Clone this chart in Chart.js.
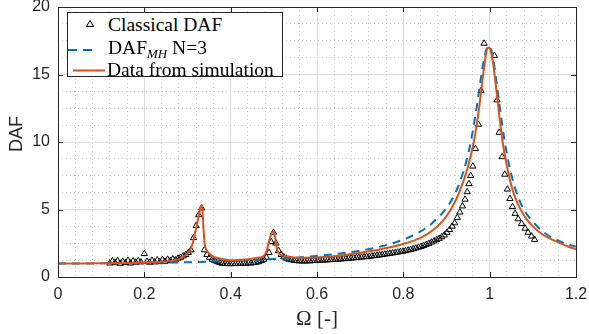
<!DOCTYPE html>
<html>
<head>
<meta charset="utf-8">
<script src="https://cdn.jsdelivr.net/npm/chart.js@4.4.1/dist/chart.umd.min.js"></script>
<style>
html,body{margin:0;padding:0;background:#fff;}
#wrap{position:relative;width:589px;height:334px;}
#legend{position:absolute;left:67px;top:12px;width:216px;height:65px;box-sizing:border-box;border:1px solid #262626;background:#fff;}
.lt{position:absolute;font-family:"Liberation Serif","Times New Roman",serif;font-size:19.5px;line-height:19px;color:#000;white-space:nowrap;}
.lt .sb{font-size:13px;font-style:italic;position:relative;top:4px;}
</style>
</head>
<body>
<div id="wrap">
<canvas id="c" width="589" height="334"></canvas>
<div id="legend"></div>
<svg id="sym" width="589" height="334" style="position:absolute;left:0;top:0;pointer-events:none;">
  <polygon points="90,20.5 93.5,26.5 86.5,26.5" fill="none" stroke="#000" stroke-width="1"/>
  <line x1="68" y1="50" x2="97" y2="50" stroke="#0072BD" stroke-width="2" stroke-dasharray="9,6"/>
  <line x1="73" y1="70.5" x2="105" y2="70.5" stroke="#D95319" stroke-width="2"/>
</svg>
<div class="lt" style="left:108px;top:14.6px;">Classical DAF</div>
<div class="lt" style="left:108px;top:37.9px;">DAF<span class="sb">MH</span> N=3</div>
<div class="lt" style="left:107px;top:59.6px;">Data from simulation</div>
</div>
<script>
// ---- data ----
const classicalX = [
 0.120,0.126,0.132,0.138,0.144,0.150,0.156,0.162,0.168,0.174,0.180,0.186,0.192,
 0.200,
 0.206,0.212,0.218,0.224,0.230,0.236,0.242,0.248,0.254,0.260,0.266,0.272,0.278,
 0.284,0.290,0.296,0.302,0.308,0.314,0.320,0.326,0.333,0.339,0.345,0.351,0.357,0.363,0.369,0.375,
 0.381,0.387,0.393,0.399,0.405,0.411,0.417,0.423,0.429,0.435,0.441,0.447,0.453,0.459,0.465,0.471,
 0.477,0.483,0.489,0.494,0.499,0.505,0.511,0.517,0.523,0.529,0.535,0.541,0.547,0.553,0.559,0.565,0.571,0.577,0.583,0.589,0.595,
 0.601,0.607,0.613,0.619,0.625,0.631,0.637,0.643,0.649,0.655,0.661,0.667,0.673,0.679,0.685,0.691,0.697,0.703,0.709,0.715,
 0.721,0.727,0.733,0.739,0.745,0.751,0.757,0.763,0.769,0.775,0.781,0.787,0.793,0.799,0.805,0.811,0.817,0.823,0.829,0.835,
 0.841,0.847,0.853,0.859,0.865,0.871,0.877,0.883,0.889,0.895,0.901,0.907,0.913,0.919,0.925,0.931,0.937,0.943,0.948,0.952,0.956,0.961,0.967,0.974,0.980,0.987,
 1.011,1.017,1.022,1.029,1.035,1.041,1.047,1.053,1.059,1.066,1.074,1.082,1.089,1.097,1.104
];
const classicalDAF = [
 1.02,1.18,1.05,1.20,1.00,1.15,1.05,1.22,1.02,1.18,1.08,1.20,1.10,
 1.72,
 1.15,1.08,1.22,1.10,1.25,1.12,1.28,1.15,1.30,1.20,1.32,1.25,1.38,
 1.45,1.55,1.65,1.80,2.00,2.90,3.80,4.60,5.10,2.00,1.65,1.45,1.30,1.20,1.12,1.05,
 1.00,0.98,1.00,0.97,1.00,0.98,1.00,1.00,1.02,1.00,1.03,1.02,1.05,1.08,1.12,1.20,
 1.30,1.45,1.80,2.60,3.30,2.50,1.95,1.65,1.48,1.38,1.30,1.26,1.22,1.20,1.18,1.18,1.17,1.18,1.18,1.20,1.20,
 1.22,1.23,1.24,1.25,1.26,1.27,1.28,1.29,1.31,1.32,1.34,1.35,1.37,1.39,1.41,1.42,1.44,1.46,1.48,1.50,
 1.52,1.55,1.57,1.60,1.62,1.65,1.68,1.71,1.74,1.77,1.80,1.83,1.87,1.90,1.94,1.98,2.03,2.08,2.13,2.19,
 2.25,2.32,2.40,2.48,2.57,2.66,2.75,2.85,2.97,3.10,3.30,3.50,3.75,4.00,4.40,4.80,5.25,5.75,6.30,6.90,7.50,8.20,9.50,11.3,13.8,17.3,
 16.4,13.1,10.7,8.9,7.6,6.5,5.8,5.2,4.7,4.3,3.95,3.6,3.3,3.02,2.77
];
const mhX = [0,0.1,0.2,0.3,0.4,0.5,0.55,0.6,0.65,0.7,0.75,0.8,0.83,0.86,0.88,0.9,0.92,0.94,0.955,0.97,0.98,0.988,0.994,0.999,1.004,1.01,1.018,1.026,1.035,1.045,1.055,1.07,1.085,1.1,1.12,1.14,1.16,1.18,1.2];
const mhDAF = [1.0,1.01,1.04,1.09,1.19,1.33,1.43,1.56,1.73,1.96,2.28,2.77,3.2,3.8,4.4,5.1,6.2,7.9,9.8,12.6,14.8,16.3,17.0,17.1,16.8,15.8,13.9,12.0,10.0,8.3,7.0,5.6,4.7,4.1,3.45,3.0,2.68,2.43,2.25];
const simX = [0,0.05,0.1,0.15,0.2,0.24,0.27,0.29,0.3,0.306,0.312,0.317,0.322,0.327,0.331,0.334,0.337,0.34,0.345,0.352,0.36,0.368,0.38,0.4,0.42,0.44,0.46,0.476,0.483,0.487,0.493,0.497,0.5,0.503,0.507,0.514,0.522,0.53,0.545,0.56,0.6,0.65,0.7,0.75,0.8,0.84,0.87,0.89,0.91,0.93,0.95,0.965,0.975,0.985,0.992,0.997,1.002,1.008,1.015,1.022,1.03,1.04,1.05,1.06,1.07,1.085,1.1,1.12,1.14,1.16,1.18,1.2];
const simDAF = [1.0,1.0,1.02,1.04,1.08,1.14,1.24,1.5,1.75,2.0,2.5,3.2,3.9,4.7,5.25,5.3,3.6,2.4,1.95,1.68,1.5,1.42,1.33,1.24,1.27,1.32,1.42,1.55,1.9,2.4,3.1,3.38,3.3,2.9,2.05,1.68,1.57,1.52,1.45,1.42,1.45,1.58,1.8,2.08,2.45,2.9,3.5,4.1,5.0,6.3,8.2,10.3,12.4,15.0,16.6,17.0,16.8,15.8,14.0,12.0,10.0,8.2,6.8,5.8,5.1,4.3,3.75,3.2,2.85,2.55,2.28,2.05];
const xTickLabels = ['0','0.2','0.4','0.6','0.8','1','1.2'];
const yTickLabels = ['0','5','10','15','20'];
const xTitle = 'Ω [-]';
const yTitle = 'DAF';

const zip = (xs, ys) => xs.map((x, i) => ({x: x, y: ys[i]}));
const isMajor = (v, step) => Math.abs(v / step - Math.round(v / step)) < 1e-6;

const boxPlugin = {
  id: 'boxPlugin',
  afterDraw(chart) {
    const {ctx, chartArea: a, scales: {x, y}} = chart;
    ctx.save();
    ctx.strokeStyle = '#262626';
    ctx.lineWidth = 1;
    ctx.beginPath();
    xTickLabels.forEach(t => {
      const px = Math.round(x.getPixelForValue(parseFloat(t))) + 0.5;
      ctx.moveTo(px, a.bottom); ctx.lineTo(px, a.bottom - 5);
      ctx.moveTo(px, a.top); ctx.lineTo(px, a.top + 5);
    });
    yTickLabels.forEach(t => {
      const py = Math.round(y.getPixelForValue(parseFloat(t))) + 0.5;
      ctx.moveTo(a.left, py); ctx.lineTo(a.left + 5, py);
      ctx.moveTo(a.right, py); ctx.lineTo(a.right - 5, py);
    });
    ctx.stroke();
    ctx.strokeRect(Math.round(a.left) + 0.5, Math.round(a.top) + 0.5, Math.round(a.right - a.left), Math.round(a.bottom - a.top));
    // y axis title
    ctx.fillStyle = '#262626';
    ctx.font = '18px "Liberation Sans", Arial, sans-serif';
    ctx.textAlign = 'center';
    ctx.textBaseline = 'middle';
    ctx.translate(17, 134);
    ctx.rotate(-Math.PI / 2);
    ctx.fillText(yTitle, 0, 0);
    ctx.restore();
  }
};

const gridColor = (step) => (c) => (c.tick && isMajor(c.tick.value, step)) ? '#dedede' : '#cdcdcd';
const gridDash = (step) => (c) => (c.tick && !isMajor(c.tick.value, step)) ? [1, 3] : [];

new Chart(document.getElementById('c'), {
  type: 'scatter',
  data: {
    datasets: [
      {label: 'Classical DAF', data: zip(classicalX, classicalDAF), showLine: false,
       pointStyle: 'triangle', pointRadius: 3.6, borderColor: '#000', backgroundColor: 'rgba(0,0,0,0)', borderWidth: 1, order: 3},
      {label: 'DAF_MH N=3', data: zip(mhX, mhDAF), showLine: true, pointRadius: 0,
       borderColor: '#0072BD', borderWidth: 2, borderDash: [8, 6], cubicInterpolationMode: 'monotone', order: 2},
      {label: 'Data from simulation', data: zip(simX, simDAF), showLine: true, pointRadius: 0,
       borderColor: '#D95319', borderWidth: 2, cubicInterpolationMode: 'monotone', order: 1}
    ]
  },
  options: {
    responsive: false,
    animation: false,
    events: [],
    layout: {padding: {top: 7, right: 13, left: 0, bottom: 0}},
    plugins: {legend: {display: false}, tooltip: {enabled: false}},
    scales: {
      x: {
        type: 'linear', min: 0, max: 1.2,
        afterFit: s => { s.height = 57; s.paddingLeft = 0; s.paddingRight = 0; },
        ticks: {stepSize: 0.04, autoSkip: false, maxRotation: 0, padding: 8, color: '#262626',
          font: {family: '"Liberation Sans", Arial, sans-serif', size: 16},
          callback: v => isMajor(v, 0.2) ? String(+v.toFixed(2)) : ''},
        grid: {color: gridColor(0.2), lineWidth: 1, drawTicks: false},
        border: {display: false, dash: gridDash(0.2)},
        title: {display: true, text: xTitle, color: '#262626',
          font: {family: '"Liberation Serif", "Times New Roman", serif', size: 21, lineHeight: 1},
          padding: {top: 0, bottom: 4}}
      },
      y: {
        type: 'linear', min: 0, max: 20,
        afterFit: s => { s.width = 58; s.paddingTop = 0; s.paddingBottom = 0; },
        ticks: {stepSize: 1.25, autoSkip: false, padding: 8, color: '#262626',
          font: {family: '"Liberation Sans", Arial, sans-serif', size: 16, lineHeight: 0.8},
          callback: v => isMajor(v, 5) ? String(+v.toFixed(2)) : ''},
        grid: {color: gridColor(5), lineWidth: 1, drawTicks: false},
        border: {display: false, dash: gridDash(5)}
      }
    }
  },
  plugins: [boxPlugin]
});
</script>
</body>
</html>
